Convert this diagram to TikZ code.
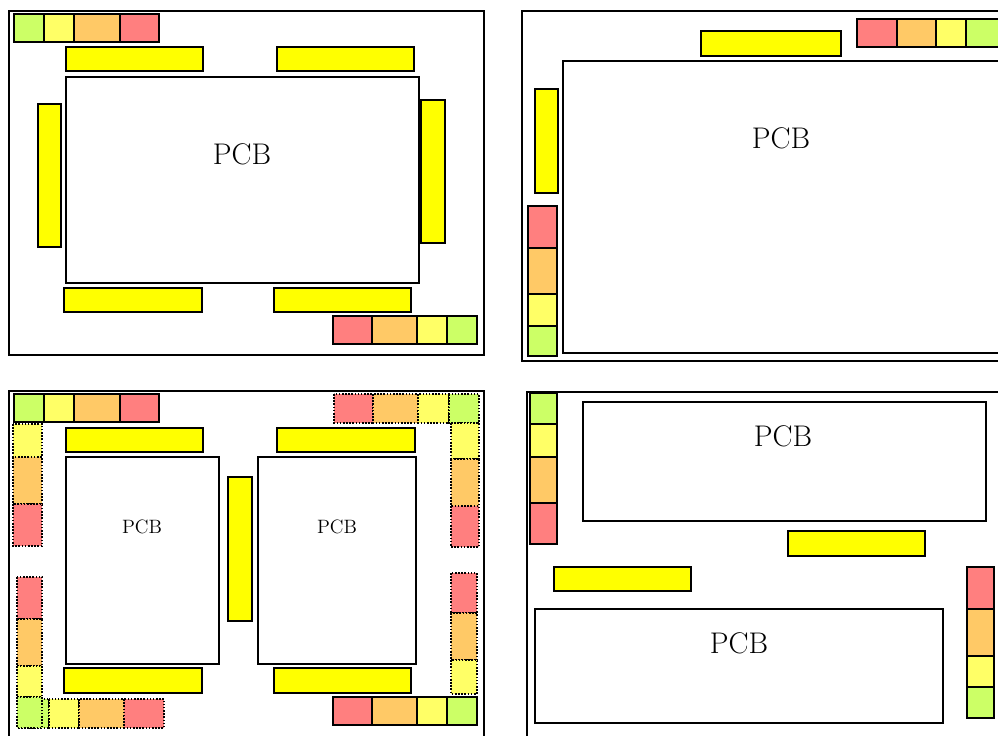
\documentclass[tikz,border=0pt]{standalone}
\usepackage{tikz}

\definecolor{ledred}{HTML}{FF7F7F}
\definecolor{ledorange}{HTML}{FFC966}
\definecolor{ledyellow}{HTML}{FFFF66}
\definecolor{ledgreen}{HTML}{CCFF66}
\definecolor{barfill}{HTML}{FFFF00}

\begin{document}
\begin{tikzpicture}[x=0.02cm, y=-0.02cm,
		frame/.style={draw=black, line width=0.8pt},
		pcb/.style={draw=black, line width=0.9pt, fill=white},
		bar/.style={draw=black, line width=0.9pt, fill=barfill},
		led/.style={draw=black, line width=0.9pt},
		ghost/.style={draw=black, line width=0.9pt, dash pattern=on 0.9pt off 0.9pt},
		biglabel/.style={font=\fontsize{17}{19}\selectfont},
		smalllabel/.style={font=\fontsize{11}{13}\selectfont}]
		\useasboundingbox (0,0) rectangle (998,735);
		\clip (0,0) rectangle (998,735);
		
		% Layout 1: one board, bars on all four sides
		\draw[frame] (9,11) rectangle (484,355);
		\draw[pcb] (66,77) rectangle (419,283);
		\node[biglabel] (pcbA) at (242,154) {PCB};
		\draw[bar] (66,47) rectangle (203,71);
		\draw[bar] (277,47) rectangle (414,71);
		\draw[bar] (38,104) rectangle (61,247);
		\draw[bar] (421,100) rectangle (445,243);
		\draw[bar] (64,288) rectangle (202,312);
		\draw[bar] (274,288) rectangle (411,312);
		\foreach \xa/\xb/\c in {14/44/ledgreen, 44/74/ledyellow, 74/120/ledorange, 120/159/ledred} {
			\draw[led, fill=\c] (\xa,14) rectangle (\xb,42);
		}
		\foreach \xa/\xb/\c in {333/372/ledred, 372/417/ledorange, 417/447/ledyellow, 447/477/ledgreen} {
			\draw[led, fill=\c] (\xa,316) rectangle (\xb,344);
		}
		
		% Layout 2: large board, strip down the left side
		\draw[frame] (522,11) rectangle (1010,361);
		\draw[pcb] (563,61) rectangle (1010,353);
		\node[biglabel] (pcbB) at (781,138) {PCB};
		\draw[bar] (701,31) rectangle (841,56);
		\draw[bar] (535,89) rectangle (558,193);
		\foreach \xa/\xb/\c in {857/897/ledred, 897/936/ledorange, 936/966/ledyellow, 966/1004/ledgreen} {
			\draw[led, fill=\c] (\xa,19) rectangle (\xb,47);
		}
		\foreach \ya/\yb/\c in {206/248/ledred, 248/294/ledorange, 294/326/ledyellow, 326/356/ledgreen} {
			\draw[led, fill=\c] (528,\ya) rectangle (557,\yb);
		}
		
		% Layout 3: two boards, optional strips dotted
		\draw[frame] (9,391) rectangle (484,745);
		\draw[pcb] (66,457) rectangle (219,664);
		\draw[pcb] (258,457) rectangle (416,664);
		\node[smalllabel] (pcbC) at (142,527) {PCB};
		\node[smalllabel] (pcbD) at (337,527) {PCB};
		\draw[bar] (66,428) rectangle (203,452);
		\draw[bar] (277,428) rectangle (415,452);
		\draw[bar] (228,477) rectangle (252,621);
		\draw[bar] (64,668) rectangle (202,693);
		\draw[bar] (274,668) rectangle (411,693);
		\foreach \xa/\xb/\c in {14/44/ledgreen, 44/74/ledyellow, 74/120/ledorange, 120/159/ledred} {
			\draw[led, fill=\c] (\xa,394) rectangle (\xb,422);
		}
		\foreach \xa/\xb/\c in {333/372/ledred, 372/417/ledorange, 417/447/ledyellow, 447/477/ledgreen} {
			\draw[led, fill=\c] (\xa,697) rectangle (\xb,725);
		}
		% dotted strips
		\foreach \xa/\xb/\c in {334/373/ledred, 373/418/ledorange, 418/449/ledyellow, 449/479/ledgreen} {
			\draw[ghost, fill=\c] (\xa,394) rectangle (\xb,423);
		}
		\foreach \ya/\yb/\c in {423/459/ledyellow, 459/506/ledorange, 506/547/ledred} {
			\draw[ghost, fill=\c] (451,\ya) rectangle (479,\yb);
		}
		\foreach \ya/\yb/\c in {424/457/ledyellow, 457/504/ledorange, 504/546/ledred} {
			\draw[ghost, fill=\c] (13,\ya) rectangle (42,\yb);
		}
		\foreach \ya/\yb/\c in {573/613/ledred, 613/660/ledorange, 660/694/ledyellow} {
			\draw[ghost, fill=\c] (451,\ya) rectangle (477,\yb);
		}
		\foreach \xa/\xb/\c in {19/49/ledgreen, 49/79/ledyellow, 79/124/ledorange, 124/164/ledred} {
			\draw[ghost, fill=\c] (\xa,699) rectangle (\xb,728);
		}
		\foreach \ya/\yb/\c in {577/619/ledred, 619/666/ledorange, 666/697/ledyellow, 697/728/ledgreen} {
			\draw[ghost, fill=\c] (17,\ya) rectangle (42,\yb);
		}
		
		% Layout 4: two boards stacked, strips on the sides
		\draw[frame] (527,392) rectangle (1010,745);
		\draw[pcb] (583,402) rectangle (986,521);
		\draw[pcb] (535,609) rectangle (943,723);
		\node[biglabel] (pcbE) at (783,436) {PCB};
		\node[biglabel] (pcbF) at (739,643) {PCB};
		\draw[bar] (788,531) rectangle (925,556);
		\draw[bar] (554,567) rectangle (691,591);
		\foreach \ya/\yb/\c in {393/424/ledgreen, 424/457/ledyellow, 457/503/ledorange, 503/544/ledred} {
			\draw[led, fill=\c] (530,\ya) rectangle (557,\yb);
		}
		\foreach \ya/\yb/\c in {567/609/ledred, 609/656/ledorange, 656/687/ledyellow, 687/718/ledgreen} {
			\draw[led, fill=\c] (967,\ya) rectangle (994,\yb);
		}
\end{tikzpicture}
\end{document}
